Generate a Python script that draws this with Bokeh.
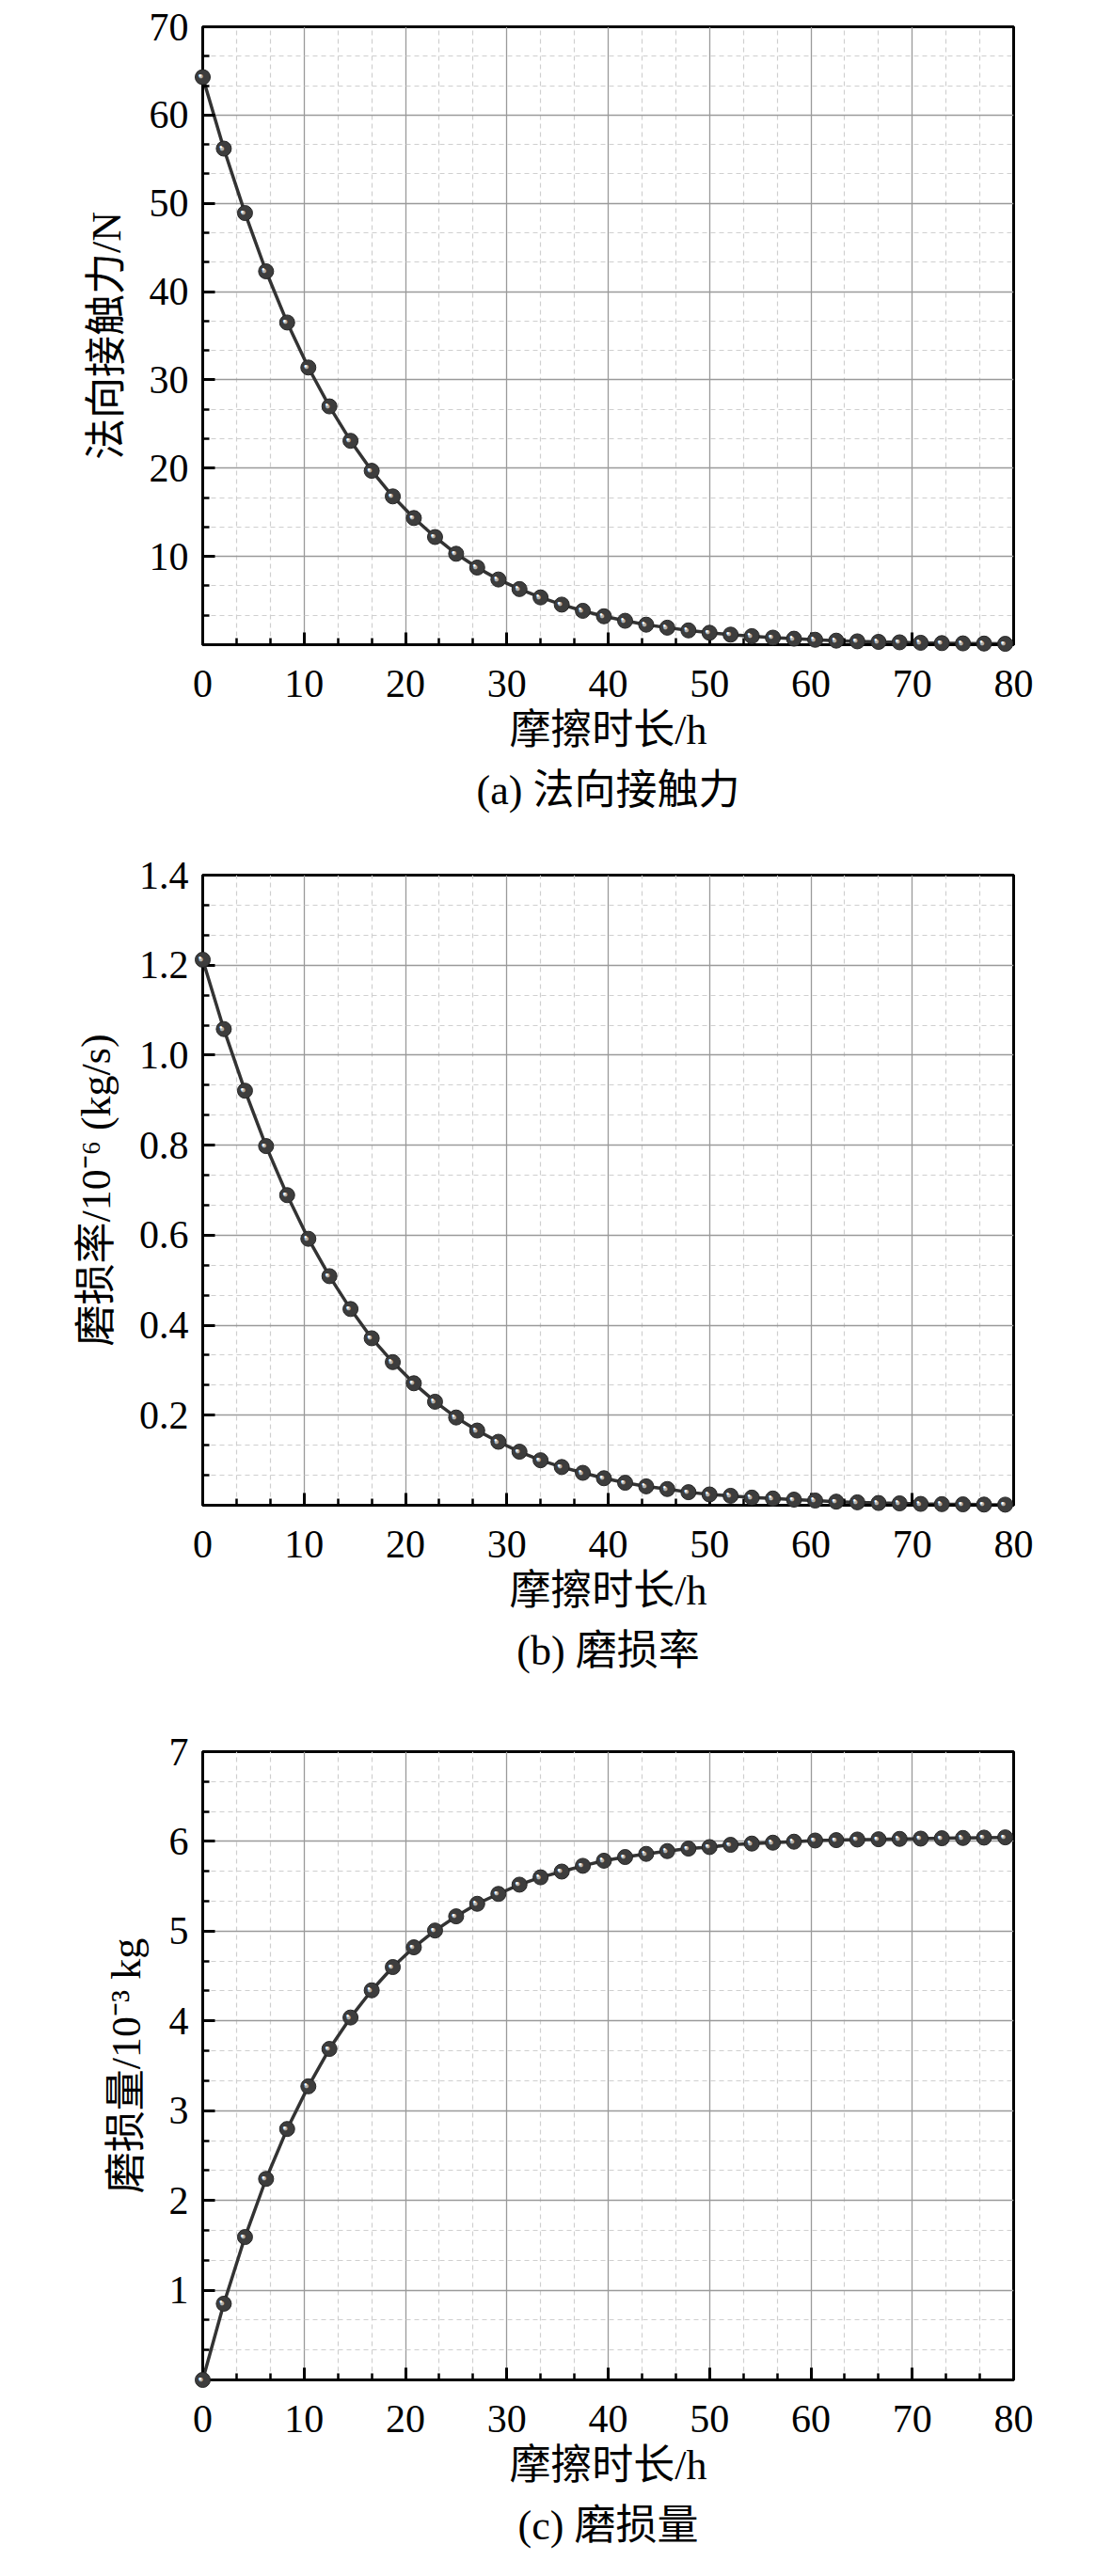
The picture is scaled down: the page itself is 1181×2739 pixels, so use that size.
from bokeh.plotting import figure
from bokeh.models import Range1d, FixedTicker, Title
from bokeh.layouts import column
from bokeh.embed import file_html
from bokeh.resources import INLINE

# ---- data ----
time_h = [0.0, 2.08, 4.17, 6.25, 8.33, 10.42, 12.5, 14.58, 16.67, 18.75,
          20.83, 22.92, 25.0, 27.08, 29.17, 31.25, 33.33, 35.42, 37.5, 39.58,
          41.67, 43.75, 45.83, 47.92, 50.0, 52.08, 54.17, 56.25, 58.33, 60.42,
          62.5, 64.58, 66.67, 68.75, 70.83, 72.92, 75.0, 77.08, 79.17]

normal_force = [64.3, 56.2, 48.9, 42.3, 36.5, 31.4, 27.0, 23.1, 19.7, 16.8,
                14.35, 12.2, 10.3, 8.74, 7.39, 6.3, 5.36, 4.54, 3.84, 3.22,
                2.71, 2.27, 1.93, 1.62, 1.35, 1.14, 0.97, 0.80, 0.68, 0.56,
                0.46, 0.38, 0.32, 0.27, 0.22, 0.18, 0.15, 0.13, 0.10]

wear_rate = [1.212, 1.058, 0.921, 0.798, 0.689, 0.592, 0.509, 0.436, 0.371, 0.318,
             0.271, 0.230, 0.195, 0.166, 0.141, 0.119, 0.100, 0.085, 0.072, 0.060,
             0.050, 0.042, 0.036, 0.029, 0.024, 0.021, 0.017, 0.015, 0.0125, 0.0105,
             0.008, 0.0065, 0.005, 0.0042, 0.003, 0.0024, 0.002, 0.0015, 0.0013]

wear_amount = [0.0, 0.849, 1.592, 2.240, 2.796, 3.271, 3.688, 4.038, 4.341, 4.600,
               4.820, 5.007, 5.165, 5.305, 5.415, 5.518, 5.600, 5.664, 5.728, 5.785,
               5.826, 5.861, 5.892, 5.920, 5.937, 5.962, 5.976, 5.986, 5.997, 6.010,
               6.014, 6.021, 6.024, 6.028, 6.031, 6.035, 6.038, 6.042, 6.045]

x_ticks = [0, 10, 20, 30, 40, 50, 60, 70, 80]
ticks_a = [10, 20, 30, 40, 50, 60, 70]
ticks_b = [0.2, 0.4, 0.6, 0.8, 1.0, 1.2, 1.4]
ticks_c = [1, 2, 3, 4, 5, 6, 7]
labels_b = {0.2: "0.2", 0.4: "0.4", 0.6: "0.6", 0.8: "0.8", 1.0: "1.0", 1.2: "1.2", 1.4: "1.4"}

x_label = "摩擦时长/h"
y_label_a = "法向接触力/N"
y_label_b = "磨损率/10⁻⁶ (kg/s)"
y_label_c = "磨损量/10⁻³ kg"
caption_a = "(a) 法向接触力"
caption_b = "(b) 磨损率"
caption_c = "(c) 磨损量"

FONT = "'Liberation Serif', 'Noto Sans CJK SC'"


def minor_of(major, step):
    out = []
    for m in [major[0] - step] + list(major):
        out += [m + step / 3.0, m + 2 * step / 3.0]
    return out


def make(y, ymax, yticks, ystep, ylabel, caption, top, bottom, fh, ylabels=None):
    p = figure(frame_width=862, frame_height=fh,
               x_range=Range1d(0, 80), y_range=Range1d(0, ymax),
               output_backend="svg", toolbar_location=None,
               min_border_left=215, min_border_right=50,
               min_border_top=top, min_border_bottom=bottom)
    p.background_fill_color = "white"
    p.border_fill_color = "white"
    p.outline_line_color = "black"
    p.outline_line_width = 3
    p.outline_line_alpha = 1

    p.xaxis.ticker = FixedTicker(ticks=x_ticks, minor_ticks=minor_of(x_ticks, 10))
    p.yaxis.ticker = FixedTicker(ticks=yticks, minor_ticks=minor_of(yticks, ystep))
    if ylabels:
        p.yaxis.major_label_overrides = ylabels

    for ax in (p.xaxis[0], p.yaxis[0]):
        ax.axis_line_color = "black"
        ax.axis_line_width = 3
        ax.major_tick_in = 13
        ax.major_tick_out = 0
        ax.minor_tick_in = 7
        ax.minor_tick_out = 0
        ax.major_tick_line_color = "black"
        ax.minor_tick_line_color = "black"
        ax.major_tick_line_width = 3
        ax.minor_tick_line_width = 2.5
        ax.major_label_text_font = FONT
        ax.major_label_text_font_size = "42px"
        ax.major_label_text_color = "black"
        ax.axis_label_text_font = FONT
        ax.axis_label_text_font_size = "44px"
        ax.axis_label_text_font_style = "normal"
        ax.axis_label_text_color = "black"

    p.xaxis.major_label_standoff = 27
    p.yaxis.major_label_standoff = 15
    p.xaxis.axis_label = x_label
    p.yaxis.axis_label = ylabel
    p.xaxis.axis_label_standoff = 8
    p.yaxis.axis_label_standoff = 18

    for g in (p.xgrid[0], p.ygrid[0]):
        g.grid_line_color = "#9a9a9a"
        g.grid_line_width = 1.3
        g.minor_grid_line_color = "#cfcfcf"
        g.minor_grid_line_width = 1.2
        g.minor_grid_line_dash = "5 4"

    p.line(time_h, y, line_color="#333333", line_width=3.5)
    r1 = p.scatter(time_h, y, size=16, fill_color="#3d3d3d", line_color="#262626", line_width=1)
    r2 = p.text(time_h, y, text=["●"] * len(time_h), text_font_size="10px",
                text_color="#b0b0b0", text_align="center", text_baseline="middle",
                x_offset=-2, y_offset=-1)
    r3 = p.text(time_h, y, text=["●"] * len(time_h), text_font_size="6px",
                text_color="#ffffff", text_align="center", text_baseline="middle",
                x_offset=-3, y_offset=-2)
    for r in (r1, r2, r3):
        r.level = "overlay"

    p.add_layout(Title(text=caption, align="center", text_font=FONT,
                       text_font_size="44px", text_font_style="normal",
                       text_color="black", standoff=21), "below")
    return p


fa = make(normal_force, 70, ticks_a, 10, y_label_a, caption_a, 28, 192, 657)
fb = make(wear_rate, 1.4, ticks_b, 0.2, y_label_b, caption_b, 53, 192, 670, labels_b)
fc = make(wear_amount, 7, ticks_c, 1, y_label_c, caption_c, 70, 188, 668)

layout = column(fa, fb, fc)
open("out.html", "w").write(file_html(layout, INLINE))
